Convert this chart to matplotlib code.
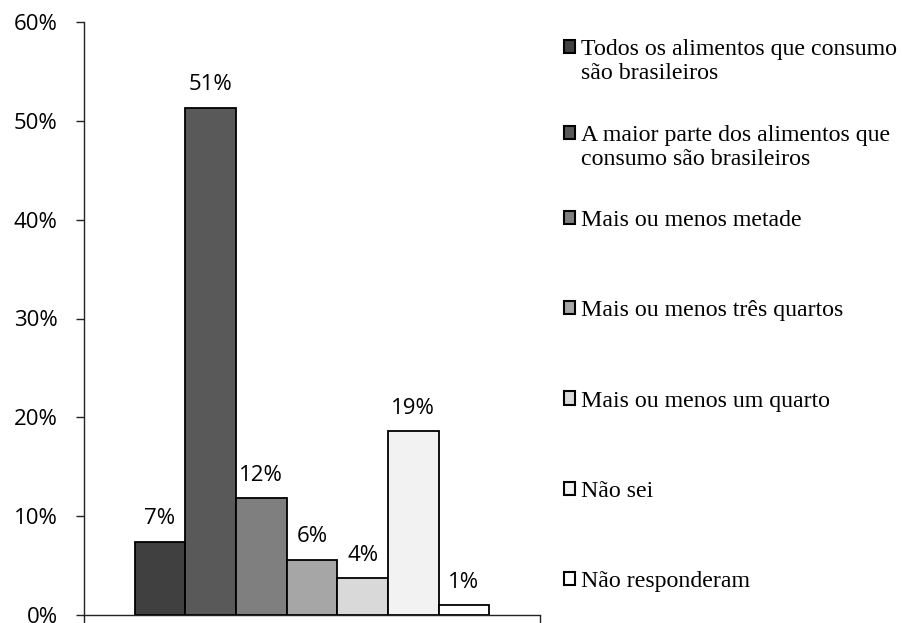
import matplotlib
matplotlib.use('Agg')
import matplotlib.pyplot as plt
from matplotlib.patches import Rectangle
from matplotlib.legend_handler import HandlerPatch

labels = [
    "Todos os alimentos que consumo\nsão brasileiros",
    "A maior parte dos alimentos que\nconsumo são brasileiros",
    "Mais ou menos metade",
    "Mais ou menos três quartos",
    "Mais ou menos um quarto",
    "Não sei",
    "Não responderam",
]
values = [7.4, 51.3, 11.8, 5.6, 3.7, 18.6, 1.0]
value_labels = ["7%", "51%", "12%", "6%", "4%", "19%", "1%"]
colors = ["#404040", "#595959", "#7f7f7f", "#a6a6a6", "#d9d9d9", "#f2f2f2", "#ffffff"]
yticks = [0, 10, 20, 30, 40, 50, 60]
ytick_labels = ["0%", "10%", "20%", "30%", "40%", "50%", "60%"]

fig = plt.figure(figsize=(9.03, 6.23), dpi=100)
ax = fig.add_axes([84 / 903, 8 / 623, 456 / 903, 593 / 623])

x = list(range(len(values)))
bars = ax.bar(x, values, width=1.0, color=colors, edgecolor="black", linewidth=1.3)

for xi, v, lab in zip(x, values, value_labels):
    ax.annotate(lab, (xi, v), xytext=(0, 9), textcoords="offset points",
                ha="center", va="bottom", fontsize=16, family="Open Sans")

ax.set_xlim(-1.5, 7.5)
ax.set_ylim(0, 60)
ax.set_yticks(yticks)
ax.set_yticklabels(ytick_labels, family="Open Sans", fontsize=16)
ax.set_xticks([-1.5, 7.5])
ax.set_xticklabels([])
ax.tick_params(axis="both", direction="out", length=6, width=1, color="#222222")
ax.tick_params(axis="y", pad=13)
for s in ["top", "right"]:
    ax.spines[s].set_visible(False)
for s in ["left", "bottom"]:
    ax.spines[s].set_color("#222222")
    ax.spines[s].set_linewidth(1)


def make_patch(shift):
    def f(legend, orig_handle, xdescent, ydescent, width, height, fontsize):
        return Rectangle((-xdescent, -ydescent + shift * fontsize), width, height)
    return f


handles = [Rectangle((0, 0), 1, 1, facecolor=c, edgecolor="black", linewidth=1.5) for c in colors]
hmap = {}
for h, lab in zip(handles, labels):
    shift = 0.6 if "\n" in lab else 0.0
    hmap[h] = HandlerPatch(patch_func=make_patch(shift))

legend_kw = dict(handler_map=hmap, loc="upper left", frameon=False,
                 prop={"family": "Liberation Serif", "size": 17.2},
                 handlelength=0.48, handleheight=0.48, handletextpad=0.22,
                 borderpad=0, borderaxespad=0)

# two-line entries and one-line entries are spaced differently in the original
leg1 = fig.legend(handles[:2], labels[:2], bbox_to_anchor=(564 / 903, 1 - 39 / 623),
                  labelspacing=1.7, **legend_kw)
fig.legend(handles[2:], labels[2:], bbox_to_anchor=(564 / 903, 1 - 210 / 623),
           labelspacing=2.9, **legend_kw)

fig.savefig("out.png", dpi=100)
